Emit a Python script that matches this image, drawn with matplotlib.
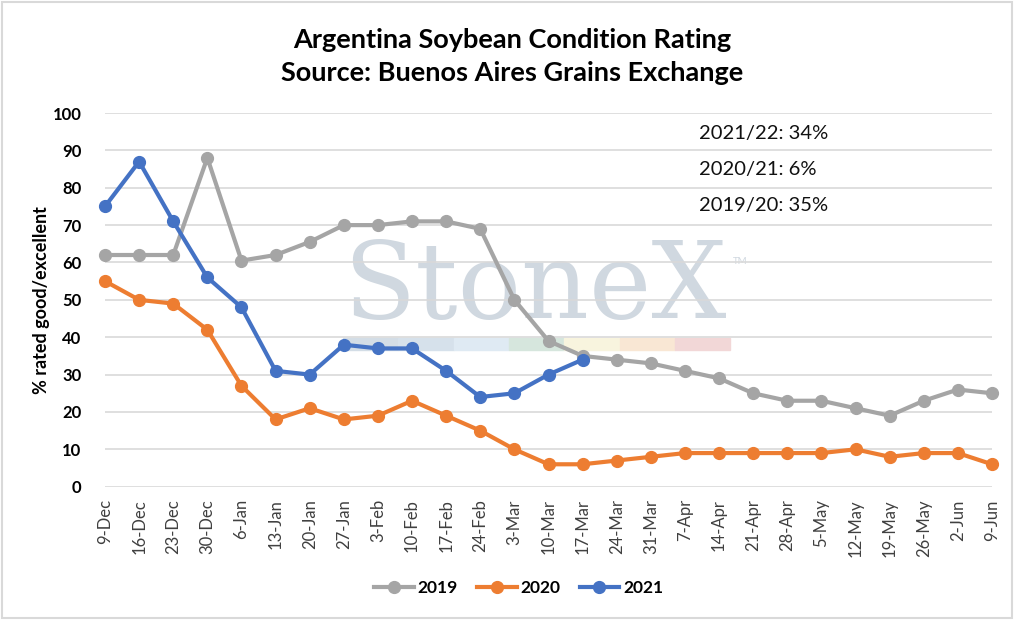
import matplotlib

matplotlib.use("Agg")
import matplotlib.pyplot as plt
from matplotlib.patches import Rectangle

plt.rcParams["font.family"] = ["Lato", "DejaVu Sans"]

weeks = ["9-Dec", "16-Dec", "23-Dec", "30-Dec", "6-Jan", "13-Jan", "20-Jan",
         "27-Jan", "3-Feb", "10-Feb", "17-Feb", "24-Feb", "3-Mar", "10-Mar",
         "17-Mar", "24-Mar", "31-Mar", "7-Apr", "14-Apr", "21-Apr", "28-Apr",
         "5-May", "12-May", "19-May", "26-May", "2-Jun", "9-Jun"]
y2019 = [62, 62, 62, 88, 60.5, 62, 65.5, 70, 70, 71, 71, 69, 50, 39, 35,
         34, 33, 31, 29, 25, 23, 23, 21, 19, 23, 26, 25]
y2020 = [55, 50, 49, 42, 27, 18, 21, 18, 19, 23, 19, 15, 10, 6, 6,
         7, 8, 9, 9, 9, 9, 9, 10, 8, 9, 9, 6]
y2021 = [75, 87, 71, 56, 48, 31, 30, 38, 37, 37, 31, 24, 25, 30, 34]
notes = ["2021/22: 34%", "2020/21: 6%", "2019/20: 35%"]

series = [("2019", y2019, "#A5A5A5"),
          ("2020", y2020, "#ED7D31"),
          ("2021", y2021, "#4472C4")]

fig = plt.figure(figsize=(10.15, 6.2), dpi=100)
fig.patches.append(Rectangle((0.002, 0.003), 0.995, 0.994, transform=fig.transFigure,
                             fill=False, edgecolor="#D9D9D9", linewidth=1.5))
ax = fig.add_axes([105 / 1015, 1 - 486.7 / 620, 887 / 1015, 373.7 / 620])

# faint StoneX watermark behind grid and data
ftr = fig.transFigure
ax.text(0.527, 0.535, "StoneX", family="DejaVu Serif", fontsize=76,
        color="#D0D8E0", ha="center", va="center", zorder=0.1,
        transform=ftr, clip_on=False)
ax.text(0.722, 0.575, "TM", fontsize=7, color="#D0D8E0", zorder=0.1,
        transform=ftr, clip_on=False)
band = ["#D3DDE6", "#D6E1EB", "#DFEAF3", "#D6E6DD", "#F8F4DE", "#F9E7D4", "#F2D7D7"]
for i, c in enumerate(band):
    ax.add_patch(Rectangle((0.338 + i * 0.0545, 0.436), 0.0545, 0.019,
                           transform=ftr, color=c, zorder=0.1, clip_on=False))

x = list(range(len(weeks)))
for name, vals, color in series:
    ax.plot(x[:len(vals)], vals, color=color, linewidth=3, marker="o",
            markersize=8.5, label=name, zorder=3, clip_on=False)

ax.set_xlim(0, len(weeks) - 1)
ax.set_ylim(0, 100)
ax.set_yticks(range(0, 101, 10))
ax.set_xticks(x)
ax.set_xticklabels(weeks, rotation=90, fontsize=12, color="#404040")
for lab in ax.get_yticklabels():
    lab.set_fontweight("bold")
    lab.set_fontsize(12)
ax.tick_params(length=0)
ax.tick_params(axis="y", pad=17)
ax.tick_params(axis="x", pad=9)
ax.grid(axis="y", color="#D9D9D9", linewidth=1.2, zorder=0.5)
ax.set_axisbelow(True)
ax.patch.set_alpha(0)
for s in ax.spines.values():
    s.set_visible(False)

ax.set_ylabel("% rated good/excellent", fontsize=13, fontweight="bold", labelpad=2)

fig.text(0.505, 0.935, "Argentina Soybean Condition Rating", ha="center",
         va="center", fontsize=19.5, fontweight="bold")
fig.text(0.505, 0.883, "Source: Buenos Aires Grains Exchange", ha="center",
         va="center", fontsize=19.5, fontweight="bold")

for i, t in enumerate(notes):
    fig.text(0.689, 1 - (133 + i * 36.5) / 620, t, fontsize=14.5, va="center",
             color="#111111")

fig.legend(loc="center", bbox_to_anchor=(0.511, 0.051), ncol=3, frameon=False,
           prop={"weight": "bold", "size": 12.5}, handlelength=2.3,
           columnspacing=1.1, handletextpad=0.2)

fig.savefig("out.png", dpi=100)
